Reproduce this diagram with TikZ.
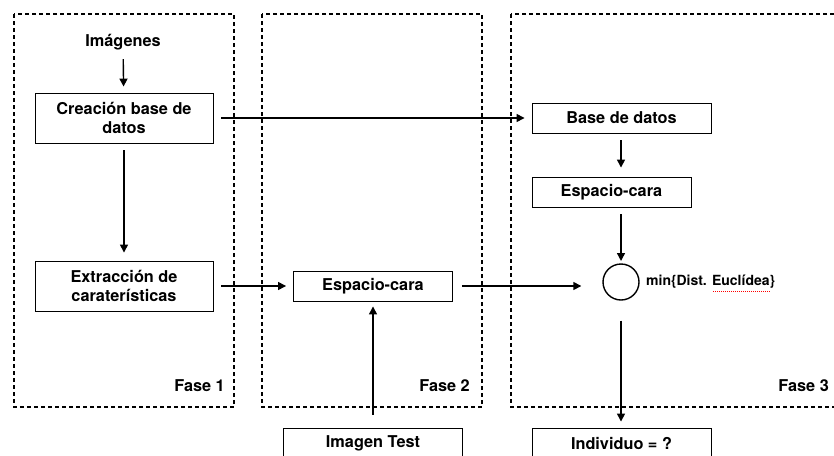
\documentclass[tikz,border=0pt]{standalone}
\usepackage{fontspec}
\setmainfont{TeX Gyre Heros}
\usetikzlibrary{arrows.meta}
\begin{document}
\begin{tikzpicture}[x=1pt,y=-1pt,
  frame/.style={draw, line width=1.8pt, dash pattern=on 4pt off 3pt},
  box/.style={draw, line width=0.9pt, inner sep=0pt, align=center, font=\bfseries\fontsize{16.3}{18.5}\selectfont},
  lbl/.style={inner sep=0pt, font=\bfseries\fontsize{16.3}{18.5}\selectfont},
  arr/.style={line width=1.4pt, -{Triangle[length=8pt,width=8pt]}}
]
\useasboundingbox (0,0) rectangle (834,455);
\clip (0,0) rectangle (834,455);
\fill[white] (0,0) rectangle (834,455);
% frames
\draw[frame] (14,14) rectangle (234,407);
\draw[frame] (262,14) rectangle (482,407);
\draw[frame] (511,14) rectangle (850,407);
\node[lbl, anchor=east] (f1) at (225,386) {Fase 1};
\node[lbl, anchor=east] (f2) at (470,386) {Fase 2};
\node[lbl, anchor=east] (f3) at (829,386) {Fase 3};
% nodes
\node[lbl] (img) at (123,42) {Imágenes};
\node[box, minimum width=178pt, minimum height=50pt] (crea) at (124,118) {Creación base de\\datos};
\node[box, minimum width=178pt, minimum height=50pt] (extr) at (124,286) {Extracción de\\caraterísticas};
\node[box, minimum width=159pt, minimum height=30pt] (esp2) at (373,286) {Espacio-cara};
\node[box, minimum width=179pt, minimum height=30pt] (test) at (373,443) {Imagen Test};
\node[box, minimum width=179pt, minimum height=30pt] (base) at (621.5,118) {Base de datos};
\node[box, minimum width=159pt, minimum height=30pt] (esp3) at (611.5,192) {Espacio-cara};
\node[box, minimum width=179pt, minimum height=30pt] (indi) at (621.5,443) {Individuo = ?};
\node[draw, circle, line width=1.4pt, minimum size=36pt, inner sep=0pt] (cir) at (621,282) {};
\node[anchor=west, inner sep=0pt, font=\bfseries\fontsize{14}{16}\selectfont] (minl) at (646,282) {min\{Dist. Euclídea\}};
\draw[red, line width=1pt, dash pattern=on 1pt off 1pt] (713,291) -- (770,291);
% connectors
\draw[arr, shorten <=9pt, shorten >=6pt] (img) -- (crea);
\draw[arr, shorten <=7pt, shorten >=8pt] (crea) -- (extr);
\draw[arr, shorten <=8pt, shorten >=7pt] (crea.east) -- (base.west);
\draw[arr, shorten <=8pt, shorten >=7pt] (extr.east) -- (esp2.west);
\draw[arr, shorten <=13pt, shorten >=5pt] (test.north) -- (esp2.south);
\draw[arr, shorten <=9pt, shorten >=21pt] (esp2.east) -- (esp2.east -| cir.west);
\draw[arr, shorten <=7pt, shorten >=9pt] (base.south -| cir.north) -- (esp3.north -| cir.north);
\draw[arr, shorten <=7pt, shorten >=21pt] (esp3.south -| cir.north) -- (cir.center);
\draw[arr, shorten <=20pt, shorten >=6pt] (cir.south) -- (indi.north -| cir.south);
\end{tikzpicture}
\end{document}
